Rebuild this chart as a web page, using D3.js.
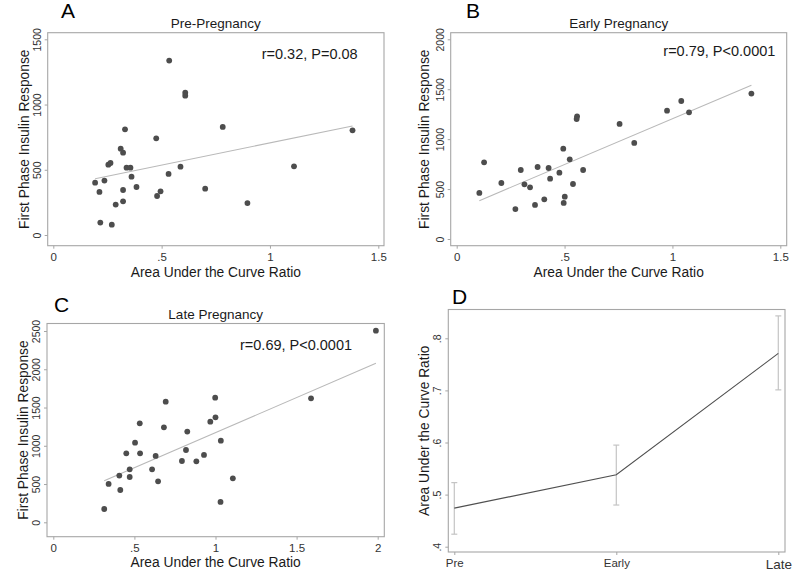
<!DOCTYPE html>
<html>
<head>
<meta charset="utf-8">
<script src="https://cdn.jsdelivr.net/npm/d3@7"></script>
<style>
html,body{margin:0;padding:0;background:#fff;}
svg{display:block;font-family:"Liberation Sans",Arial,Helvetica,sans-serif;}
</style>
</head>
<body>
<svg id="chart" width="800" height="588"></svg>
<script>
// ---------- DATA ----------
const preX = [0.193,0.213,0.217,0.236,0.254,0.264,0.270,0.288,0.311,0.322,0.322,0.322,0.331,0.338,0.356,0.361,0.384,0.475,0.479,0.495,0.532,0.535,0.587,0.609,0.609,0.701,0.782,0.896,1.111,1.381];
const preY = [401,330,95,417,539,552,79,233,662,345,631,258,810,516,516,447,368,741,299,335,468,1337,524,1091,1068,355,828,245,526,802];
const earlyX = [0.105,0.127,0.207,0.272,0.297,0.314,0.340,0.363,0.375,0.406,0.426,0.433,0.476,0.494,0.496,0.501,0.524,0.539,0.558,0.556,0.586,0.755,0.823,0.975,1.041,1.077,1.366];
const earlyY = [461,768,561,300,691,548,518,341,721,397,711,604,664,905,361,424,798,551,1229,1202,691,1152,962,1285,1382,1269,1456];
const lateX = [0.314,0.341,0.407,0.413,0.450,0.471,0.471,0.504,0.533,0.535,0.609,0.631,0.646,0.682,0.693,0.793,0.818,0.826,0.882,0.929,0.968,0.998,1.000,1.031,1.033,1.107,1.589,1.989];
const lateY = [174,501,610,422,902,692,592,1041,1294,902,692,867,536,1241,1577,801,945,1185,797,880,1315,1629,1372,266,1067,575,1620,2504];

// fitted lines (intercept, slope)
const fitPre = [366, 340];
const fitEarly = [288, 916];
const fitLate = [256, 916];

const panelLetters = ["A","B","C","D"];
const panelTitles = ["Pre-Pregnancy","Early Pregnancy","Late Pregnancy"];
const annotations = ["r=0.32, P=0.08","r=0.79, P<0.0001","r=0.69, P<0.0001"];
const yTicksPre = [0,500,1000,1500];
const yTicksEarly = [0,500,1000,1500,2000];
const yTicksLate = [0,500,1000,1500,2000,2500];
const xTicksAB = [0,0.5,1,1.5];
const xTicksC = [0,0.5,1,1.5,2];

const stages = ["Pre","Early","Late"];
const aucMean = [0.474,0.538,0.771];
const aucLow = [0.424,0.480,0.701];
const aucHigh = [0.523,0.595,0.843];
const yTicksD = [0.4,0.5,0.6,0.7,0.8];

const xTitle = "Area Under the Curve Ratio";
const yTitle = "First Phase Insulin Response";

// ---------- DRAW ----------
const svg = d3.select("#chart");
const FONT = '"Liberation Sans",Arial,Helvetica,sans-serif';
const frameColor = "#a6a6a6";
const tickTextColor = "#333";
const fmt = v => { let s = String(+v.toFixed(3)); return s.replace(/^0\./, "."); };

function frameAndAxes(g, f, xScale, yScale, xTicks, yTicks, xFmt, yFmt, xFontSizes) {
  g.append("rect").attr("x", f.x0).attr("y", f.y0)
    .attr("width", f.x1 - f.x0).attr("height", f.y1 - f.y0)
    .attr("fill", "none").attr("stroke", frameColor).attr("stroke-width", 1.1);
  // x axis
  const xa = g.append("g").attr("transform", `translate(0,${f.y1})`)
    .call(d3.axisBottom(xScale).tickValues(xTicks).tickFormat(xFmt).tickSize(3).tickPadding(4));
  xa.select(".domain").remove();
  xa.selectAll("line").attr("stroke", frameColor);
  xa.selectAll("text").attr("fill", tickTextColor).style("font-family", FONT)
    .style("font-size", (d, i) => (xFontSizes ? xFontSizes[i] : 11.5) + "px");
  // y axis
  const ya = g.append("g").attr("transform", `translate(${f.x0},0)`)
    .call(d3.axisLeft(yScale).tickValues(yTicks).tickFormat(yFmt).tickSize(3).tickPadding(4));
  ya.select(".domain").remove();
  ya.selectAll("line").attr("stroke", frameColor);
  ya.selectAll("text").attr("fill", tickTextColor).style("font-family", FONT).style("font-size", "10.5px")
    .attr("x", null).attr("dy", null)
    .attr("text-anchor", "middle")
    .attr("transform", "translate(-7,0) rotate(-90)");
}

function scatterPanel(cfg) {
  const g = svg.append("g");
  const f = cfg.frame;
  const x = d3.scaleLinear().domain(cfg.xDom).range(cfg.xRange);
  const y = d3.scaleLinear().domain(cfg.yDom).range(cfg.yRange);
  frameAndAxes(g, f, x, y, cfg.xTicks, cfg.yTicks, fmt, d => String(d), null);
  // fit line
  const xmin = d3.min(cfg.xs), xmax = d3.max(cfg.xs);
  const fitPts = [xmin, xmax].map(v => [v, cfg.fit[0] + cfg.fit[1] * v]);
  g.append("path").datum(fitPts)
    .attr("d", d3.line().x(d => x(d[0])).y(d => y(d[1])))
    .attr("fill", "none").attr("stroke", "#b9b9b9").attr("stroke-width", 1.1);
  // points
  g.selectAll("circle.pt").data(d3.zip(cfg.xs, cfg.ys)).join("circle")
    .attr("class", "pt")
    .attr("cx", d => x(d[0])).attr("cy", d => y(d[1])).attr("r", 2.9)
    .attr("fill", "#4d4d4d");
  // titles
  g.append("text").attr("x", (f.x0 + f.x1) / 2).attr("y", f.y0 - 4.5)
    .attr("text-anchor", "middle").style("font-size", "13.5px").attr("fill", "#1a1a1a").text(cfg.title);
  g.append("text").attr("x", (f.x0 + f.x1) / 2).attr("y", cfg.xTitleY)
    .attr("text-anchor", "middle").style("font-size", "13.8px").attr("fill", "#1a1a1a").text(xTitle);
  g.append("text").attr("transform", `translate(${cfg.yTitleX},${(f.y0 + f.y1) / 2}) rotate(-90)`)
    .attr("text-anchor", "middle").style("font-size", "13.8px").attr("fill", "#1a1a1a").text(yTitle);
  g.append("text").attr("x", cfg.ann[0]).attr("y", cfg.ann[1])
    .style("font-size", "14.5px").attr("fill", "#1a1a1a").text(cfg.annText);
  g.append("text").attr("x", cfg.letter[0]).attr("y", cfg.letter[1])
    .style("font-size", "21px").attr("fill", "#000").text(cfg.letterText);
}

scatterPanel({
  frame: {x0: 47.7, y0: 32.7, x1: 384, y1: 245.7},
  xDom: [0, 1.5], xRange: [53.3, 378.3], yDom: [0, 1500], yRange: [235, 39.3],
  xTicks: xTicksAB, yTicks: yTicksPre, xs: preX, ys: preY, fit: fitPre,
  title: panelTitles[0], annText: annotations[0], ann: [261.7, 58.5],
  letterText: panelLetters[0], letter: [61, 17.5], xTitleY: 276.5, yTitleX: 28.5
});
scatterPanel({
  frame: {x0: 450.7, y0: 32.7, x1: 786.7, y1: 245.7},
  xDom: [0, 1.5], xRange: [456.7, 780.3], yDom: [0, 2000], yRange: [239, 39.3],
  xTicks: xTicksAB, yTicks: yTicksEarly, xs: earlyX, ys: earlyY, fit: fitEarly,
  title: panelTitles[1], annText: annotations[1], ann: [663.3, 55.5],
  letterText: panelLetters[1], letter: [466, 17.5], xTitleY: 276.5, yTitleX: 428.5
});
scatterPanel({
  frame: {x0: 47, y0: 323.5, x1: 384.3, y1: 536.7},
  xDom: [0, 2], xRange: [53.3, 377.7], yDom: [0, 2500], yRange: [522.3, 331],
  xTicks: xTicksC, yTicks: yTicksLate, xs: lateX, ys: lateY, fit: fitLate,
  title: panelTitles[2], annText: annotations[2], ann: [240, 350],
  letterText: panelLetters[2], letter: [54, 311.5], xTitleY: 566.5, yTitleX: 28
});

// Panel D
(function() {
  const g = svg.append("g");
  const f = {x0: 448.3, y0: 309.5, x1: 785, y1: 552};
  const x = d3.scalePoint().domain(stages).range([454.3, 778.3]);
  const y = d3.scaleLinear().domain([0.4, 0.8]).range([546.7, 338.3]);
  frameAndAxes(g, f, x, y, stages, yTicksD, d => d, fmt, [11.5, 11.5, 13.5]);
  // error bars
  const rows = stages.map((s, i) => ({s, m: aucMean[i], lo: aucLow[i], hi: aucHigh[i]}));
  const eb = g.append("g").attr("stroke", "#c4c4c4").attr("stroke-width", 1.2).attr("fill", "none");
  eb.selectAll("line.v").data(rows).join("line").attr("class", "v")
    .attr("x1", d => x(d.s)).attr("x2", d => x(d.s)).attr("y1", d => y(d.lo)).attr("y2", d => y(d.hi));
  eb.selectAll("line.cl").data(rows).join("line").attr("class", "cl")
    .attr("x1", d => x(d.s) - 3).attr("x2", d => x(d.s) + 3).attr("y1", d => y(d.lo)).attr("y2", d => y(d.lo));
  eb.selectAll("line.ch").data(rows).join("line").attr("class", "ch")
    .attr("x1", d => x(d.s) - 3).attr("x2", d => x(d.s) + 3).attr("y1", d => y(d.hi)).attr("y2", d => y(d.hi));
  g.append("path").datum(rows)
    .attr("d", d3.line().x(d => x(d.s)).y(d => y(d.m)))
    .attr("fill", "none").attr("stroke", "#505050").attr("stroke-width", 1.1);
  g.append("text").attr("transform", `translate(428.5,${(f.y0 + f.y1) / 2}) rotate(-90)`)
    .attr("text-anchor", "middle").style("font-size", "13.8px").attr("fill", "#1a1a1a").text(xTitle);
  g.append("text").attr("x", 452).attr("y", 303.5)
    .style("font-size", "21px").attr("fill", "#000").text(panelLetters[3]);
})();
</script>
</body>
</html>
